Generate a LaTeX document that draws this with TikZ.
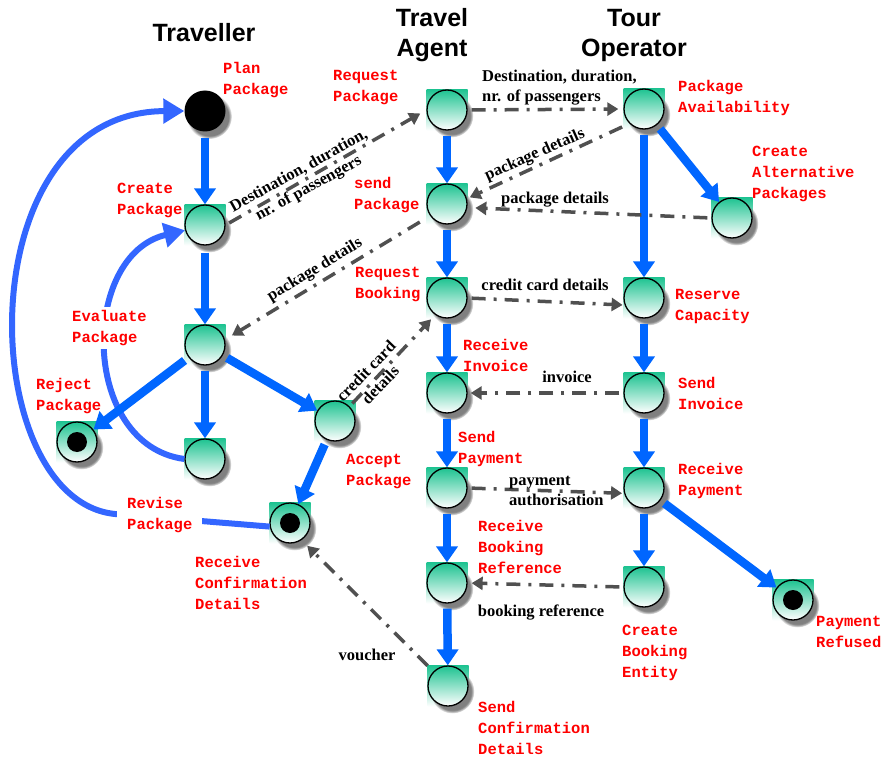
\documentclass[tikz,border=0pt]{standalone}
\usepackage{fontspec}
\newfontfamily\actfont{Liberation Mono}
\newfontfamily\msgfont{Liberation Serif}
\newfontfamily\hdrfont{Liberation Sans}
\usetikzlibrary{arrows.meta,shadows,backgrounds}
\definecolor{flowblue}{RGB}{0,102,255}
\definecolor{loopblue}{RGB}{51,102,255}
\definecolor{stategreen}{RGB}{30,195,145}
\definecolor{msggray}{RGB}{80,80,80}
\begin{document}
\begin{tikzpicture}[x=1pt,y=-1pt,
    actstate/.style={circle,draw,line width=1.3pt,minimum size=40pt,inner sep=0pt,
        top color=stategreen,middle color=stategreen!40!white,bottom color=white,
        circular drop shadow={shadow xshift=4pt,shadow yshift=-5pt,fill=black!50,opacity=1}},
    endstate/.style={actstate,path picture={\fill[black] (path picture bounding box.center) circle (10pt);}},
    startdot/.style={circle,fill=black,minimum size=41pt,inner sep=0pt,
        circular drop shadow={shadow xshift=4pt,shadow yshift=-5pt,fill=black!50,opacity=1}},
    flow/.style={draw=flowblue,line width=8.5pt,-{Triangle[width=21pt,length=16pt]},shorten <=5pt},
    loopflow/.style={draw=loopblue,line width=6pt,-{Triangle[width=24pt,length=21pt]}},
    msg/.style={draw=msggray,line width=3.5pt,dash pattern=on 14pt off 8pt on 3pt off 8pt,
        -{Triangle[width=13pt,length=11pt]},shorten <=4pt},
    act/.style={font=\actfont\bfseries\fontsize{15.5}{21}\selectfont,text=red,align=left,
        anchor=north west,inner sep=0pt},
    msglbl/.style={font=\msgfont\bfseries\fontsize{16.5}{20}\selectfont,align=center,inner sep=0pt},
    hdr/.style={font=\hdrfont\bfseries\fontsize{25}{30}\selectfont,align=center,inner sep=0pt}]
    \useasboundingbox (0,0) rectangle (884,757);

    \node[hdr] (trav) at (204,33) {Traveller};
    \node[hdr] (agent) at (432,35) {Travel\\Agent};
    \node[hdr] (oper) at (634,35) {Tour\\Operator};

    \node[startdot] (plan) at (205,111) {};
    \node[actstate] (cre) at (205,225) {};
    \node[actstate] (mid) at (205,345) {};
    \node[actstate] (bot) at (205,459) {};
    \node[endstate] (rej) at (77,442) {};
    \node[actstate] (acc) at (335,421) {};
    \node[endstate] (rcd) at (290,523) {};

    \node[actstate] (rqp) at (447,110) {};
    \node[actstate] (snp) at (447,204) {};
    \node[actstate] (rqb) at (447,298) {};
    \node[actstate] (rci) at (447,393) {};
    \node[actstate] (sdp) at (447,488) {};
    \node[actstate] (rbr) at (447,583) {};
    \node[actstate] (scd) at (448,686) {};

    \node[actstate] (pav) at (644,109) {};
    \node[actstate] (cap) at (732,218) {};
    \node[actstate] (rsc) at (644,298) {};
    \node[actstate] (sdi) at (644,393) {};
    \node[actstate] (rcp) at (644,488) {};
    \node[actstate] (cbe) at (644,587) {};
    \node[endstate] (prf) at (793,600) {};

    \begin{scope}[on background layer]
        \foreach \n in {cre,mid,bot,rej,acc,rcd,rqp,snp,rqb,rci,sdp,rbr,scd,pav,cap,rsc,sdi,rcp,cbe,prf}
            \shade[top color=stategreen,middle color=stategreen!40!white,bottom color=white]
                (\n.center) +(-20.5,-20.5) rectangle +(20.5,20.5);
    \end{scope}

    \draw[loopflow] (bot.west) .. controls (80,445) and (80,255) .. (cre.195);
    \draw[loopflow] (rcd.190) -- (115,514) .. controls (-25,500) and (-35,112) .. (plan.west);

    \draw[flow,shorten <=6pt] (plan) -- (cre);
    \draw[flow,shorten <=7pt] (cre) -- (mid);
    \draw[flow] (mid) -- (bot);
    \draw[flow] (mid) -- (rej);
    \draw[flow] (mid) -- (acc);
    \draw[flow] (acc) -- (rcd);
    \draw[flow] (rqp) -- (snp);
    \draw[flow] (snp) -- (rqb);
    \draw[flow] (rqb) -- (rci);
    \draw[flow] (rci) -- (sdp);
    \draw[flow] (sdp) -- (rbr);
    \draw[flow] (rbr) -- (scd);
    \draw[flow] (pav) -- (rsc);
    \draw[flow] (pav) -- (cap);
    \draw[flow] (rsc) -- (sdi);
    \draw[flow] (sdi) -- (rcp);
    \draw[flow] (rcp) -- (cbe);
    \draw[flow] (rcp) -- (prf);

    \draw[msg,shorten >=7pt] (cre.east) -- (rqp.west);
    \draw[msg,shorten >=5pt] (rqp.east) -- (pav.west);
    \draw[msg,shorten <=8pt,shorten >=3pt] (pav.south west) -- (snp.15);
    \draw[msg,shorten >=8pt] (cap.west) -- (snp.-10);
    \draw[msg,shorten <=12pt,shorten >=8pt] (snp.215) -- (mid.15);
    \draw[msg,shorten >=2pt] (rqb.east) -- (rsc.200);
    \draw[msg,shorten >=6pt] (acc.45) -- (rqb.235);
    \draw[msg,shorten >=3pt] (sdi.west) -- (rci.east);
    \draw[msg,shorten >=2pt] (sdp.east) -- (rcp.195);
    \draw[msg,shorten >=4pt] (cbe.west) -- (rbr.east);
    \draw[msg,shorten <=8pt,shorten >=8pt] (scd.135) -- (rcd.-56);

    \node[msglbl,rotate=29] (ldest) at (304,180) {Destination, duration,\\nr. of passengers};
    \node[msglbl,align=left,anchor=west] (ldest2) at (482,88) {Destination, duration,\\nr. of passengers};
    \node[msglbl,rotate=24] (lpd) at (535,155) {package details};
    \node[msglbl] (lpd2) at (555,200) {package details};
    \node[msglbl,rotate=31] (lpd3) at (315,270) {package details};
    \node[msglbl] (lccd) at (545,285) {credit card details};
    \node[msglbl,rotate=46] (lccd2) at (373,378) {credit card\\details};
    \node[msglbl] (linv) at (567,377) {invoice};
    \node[msglbl,align=left,anchor=west] (lpay) at (509,491) {payment\\authorisation};
    \node[msglbl] (lbref) at (541,613) {booking reference};
    \node[msglbl] (lvou) at (367,655) {voucher};

    \node[act] (tplan) at (223,62) {Plan\\Package};
    \node[act] (tcre) at (117,183) {Create\\Package};
    \node[act,fill=white,inner sep=3pt] (teval) at (69,307) {Evaluate\\Package};
    \node[act] (trej) at (36,378) {Reject\\Package};
    \node[act,fill=white,inner xsep=10pt,inner ysep=3pt] (trev) at (117,494) {Revise\\Package};
    \node[act] (tacc) at (346,454) {Accept\\Package};
    \node[act] (trcd) at (195,556) {Receive\\Confirmation\\Details};
    \node[act] (trqp) at (333,70) {Request\\Package};
    \node[act] (tsnp) at (354,177) {send\\Package};
    \node[act] (trqb) at (355,267) {Request\\Booking};
    \node[act] (trci) at (463,339) {Receive\\Invoice};
    \node[act] (tsdp) at (458,431) {Send\\Payment};
    \node[act] (trbr) at (478,520) {Receive\\Booking\\Reference};
    \node[act] (tscd) at (478,701) {Send\\Confirmation\\Details};
    \node[act] (tpav) at (678,80) {Package\\Availability};
    \node[act] (tcap) at (752,146) {Create\\Alternative\\Packages};
    \node[act] (trsc) at (675,289) {Reserve\\Capacity};
    \node[act] (tsdi) at (678,377) {Send\\Invoice};
    \node[act] (trcp) at (678,463) {Receive\\Payment};
    \node[act] (tcbe) at (622,625) {Create\\Booking\\Entity};
    \node[act] (tprf) at (816,616) {Payment\\Refused};
\end{tikzpicture}
\end{document}
